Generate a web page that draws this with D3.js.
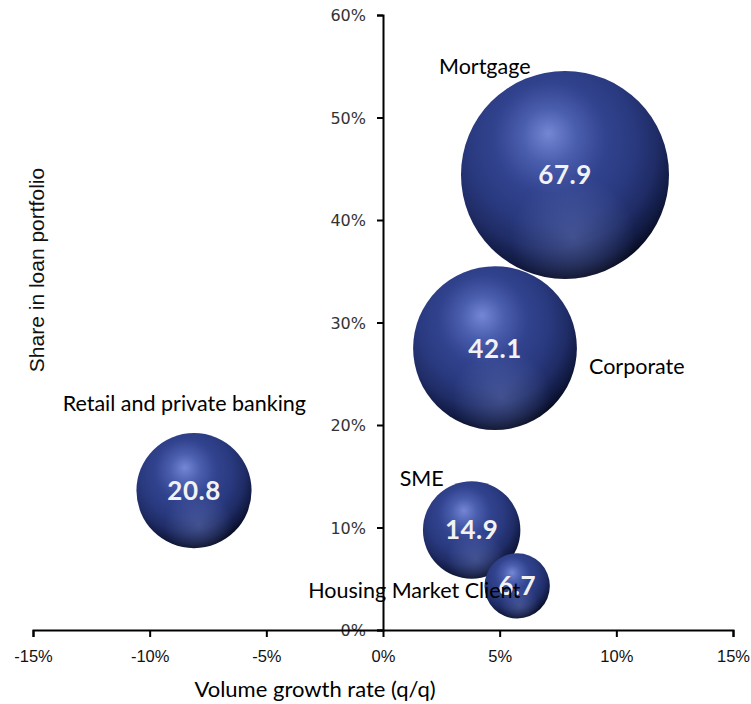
<!DOCTYPE html>
<html>
<head>
<meta charset="utf-8">
<script src="https://cdn.jsdelivr.net/npm/d3@7"></script>
<style>
  html, body { margin: 0; padding: 0; background: #ffffff; }
  svg { display: block; }
</style>
</head>
<body>
<div id="chart"></div>
<script>
// Loan portfolio segments: quarterly volume growth vs. share of portfolio
const segments = ["Mortgage", "Corporate", "Retail and private banking", "SME", "Housing Market Client"];
const growth   = [7.8, 4.8, -8.1, 3.8, 5.75];   // % q/q
const share    = [44.4, 27.5, 13.6, 9.75, 4.3]; // % of loan portfolio
const volume   = [67.9, 42.1, 20.8, 14.9, 6.7]; // bubble size label
const xTicks   = [-15, -10, -5, 0, 5, 10, 15];
const yTicks   = [0, 10, 20, 30, 40, 50, 60];

const W = 751, H = 704;
const svg = d3.select("#chart").append("svg").attr("width", W).attr("height", H);

const x = d3.scaleLinear().domain([-15, 15]).range([33, 733]);
const y = d3.scaleLinear().domain([0, 60]).range([630, 15]);
const r = d3.scaleSqrt().domain([0, 67.9]).range([0, 104]);

const labelFont = "Lato, 'Open Sans', sans-serif";

// sphere shading
const defs = svg.append("defs");
const g1 = defs.append("radialGradient").attr("id", "sphere")
  .attr("cx", "44%").attr("cy", "36%").attr("r", "66%")
  .attr("fx", "42%").attr("fy", "30%");
[[0, "#7486d4"], [0.2, "#4a5eae"], [0.4, "#32438f"], [0.6, "#2a3a80"], [0.77, "#1f2c66"], [0.9, "#111a42"], [1, "#05081a"]]
  .forEach(([o, c]) => g1.append("stop").attr("offset", o).attr("stop-color", c));
const g2 = defs.append("radialGradient").attr("id", "reflect")
  .attr("cx", "54%").attr("cy", "80%").attr("r", "30%");
[[0, "#8a9bd8", 0.3], [1, "#8a9bd8", 0]]
  .forEach(([o, c, a]) => g2.append("stop").attr("offset", o).attr("stop-color", c).attr("stop-opacity", a));

// axes (crossing at the origin)
const yAxis = svg.append("g").attr("transform", `translate(${x(0)},0)`)
  .call(d3.axisLeft(y).tickValues(yTicks).tickFormat(d => d + "%").tickSizeOuter(0).tickSize(6));
yAxis.select(".domain").attr("stroke", "#000").attr("stroke-width", 2);
yAxis.selectAll(".tick line").attr("stroke", "#000").attr("stroke-width", 2);
yAxis.selectAll(".tick text")
  .attr("x", -17).attr("dy", "0.35em")
  .attr("font-family", "'DejaVu Sans', Verdana, sans-serif")
  .attr("font-size", 16).attr("fill", "#333");

const xAxis = svg.append("g").attr("transform", `translate(0,${y(0)})`)
  .call(d3.axisBottom(x).tickValues(xTicks).tickFormat(d => d + "%").tickSizeOuter(0).tickSize(7));
xAxis.select(".domain").attr("stroke", "#000").attr("stroke-width", 2);
xAxis.selectAll(".tick line").attr("stroke", "#000").attr("stroke-width", 2);
xAxis.selectAll(".tick text")
  .attr("y", 26).attr("dy", "0.35em")
  .attr("font-family", "'Liberation Sans', Arial, sans-serif")
  .attr("font-size", 16.5).attr("fill", "#111");

// bubbles
const data = segments.map((s, i) => ({ s, gx: growth[i], sh: share[i], v: volume[i] }));
const bubbles = svg.append("g").selectAll("g").data(data).join("g")
  .attr("transform", d => `translate(${x(d.gx)},${y(d.sh)})`);
bubbles.append("circle").attr("r", d => r(d.v)).attr("fill", "url(#sphere)");
bubbles.append("circle").attr("r", d => r(d.v)).attr("fill", "url(#reflect)");
bubbles.append("text")
  .attr("text-anchor", "middle").attr("dy", "0.36em")
  .attr("font-family", labelFont).attr("font-weight", "bold")
  .attr("font-size", 26).attr("letter-spacing", 0.5)
  .attr("fill", "#f2f2f2")
  .text(d => d3.format(".1f")(d.v));

// segment names, placed around each bubble
const namePos = {
  "Mortgage": { dx: -126, dy: -108, anchor: "start" },
  "Corporate": { dx: 94, dy: 18, anchor: "start" },
  "Retail and private banking": { dx: 112, dy: -87, anchor: "end" },
  "SME": { dx: -72, dy: -52, anchor: "start" },
  "Housing Market Client": { dx: 3, dy: 5, anchor: "end" }
};
svg.append("g").selectAll("text").data(data).join("text")
  .attr("x", d => x(d.gx) + namePos[d.s].dx)
  .attr("y", d => y(d.sh) + namePos[d.s].dy)
  .attr("dy", "0.35em")
  .attr("text-anchor", d => namePos[d.s].anchor)
  .attr("font-family", labelFont).attr("font-size", 21.5).attr("fill", "#000")
  .text(d => d.s);

// axis titles
svg.append("text")
  .attr("x", 315).attr("y", 689).attr("dy", "0.35em").attr("text-anchor", "middle")
  .attr("font-family", labelFont).attr("font-size", 22).attr("fill", "#000")
  .text("Volume growth rate (q/q)");
svg.append("text")
  .attr("transform", "translate(37,270) rotate(-90)")
  .attr("dy", "0.35em").attr("text-anchor", "middle")
  .attr("font-family", "'Liberation Sans', Arial, sans-serif").attr("font-size", 21).attr("fill", "#111")
  .text("Share in loan portfolio");
</script>
</body>
</html>
